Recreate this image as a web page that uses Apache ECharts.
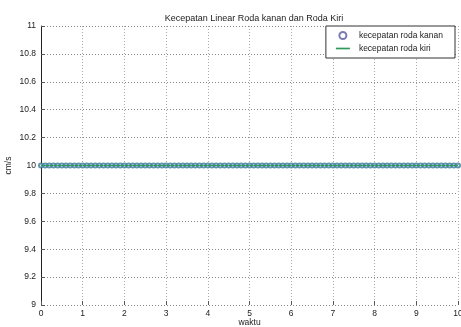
<!DOCTYPE html>
<html>
<head>
<meta charset="utf-8">
<script src="https://cdn.jsdelivr.net/npm/echarts@6/dist/echarts.min.js"></script>
<style>
html,body{margin:0;padding:0;background:#fff;}
#c{width:461px;height:327px;}
</style>
</head>
<body>
<div id="c"></div>
<script>
var waktu = [0,0.1,0.2,0.3,0.4,0.5,0.6,0.7,0.8,0.9,1,1.1,1.2,1.3,1.4,1.5,1.6,1.7,1.8,1.9,2,2.1,2.2,2.3,2.4,2.5,2.6,2.7,2.8,2.9,3,3.1,3.2,3.3,3.4,3.5,3.6,3.7,3.8,3.9,4,4.1,4.2,4.3,4.4,4.5,4.6,4.7,4.8,4.9,5,5.1,5.2,5.3,5.4,5.5,5.6,5.7,5.8,5.9,6,6.1,6.2,6.3,6.4,6.5,6.6,6.7,6.8,6.9,7,7.1,7.2,7.3,7.4,7.5,7.6,7.7,7.8,7.9,8,8.1,8.2,8.3,8.4,8.5,8.6,8.7,8.8,8.9,9,9.1,9.2,9.3,9.4,9.5,9.6,9.7,9.8,9.9,10];
var kecepatanKanan = [10,10,10,10,10,10,10,10,10,10,10,10,10,10,10,10,10,10,10,10,10,10,10,10,10,10,10,10,10,10,10,10,10,10,10,10,10,10,10,10,10,10,10,10,10,10,10,10,10,10,10,10,10,10,10,10,10,10,10,10,10,10,10,10,10,10,10,10,10,10,10,10,10,10,10,10,10,10,10,10,10,10,10,10,10,10,10,10,10,10,10,10,10,10,10,10,10,10,10,10,10];
var kecepatanKiri = [10,10,10,10,10,10,10,10,10,10,10,10,10,10,10,10,10,10,10,10,10,10,10,10,10,10,10,10,10,10,10,10,10,10,10,10,10,10,10,10,10,10,10,10,10,10,10,10,10,10,10,10,10,10,10,10,10,10,10,10,10,10,10,10,10,10,10,10,10,10,10,10,10,10,10,10,10,10,10,10,10,10,10,10,10,10,10,10,10,10,10,10,10,10,10,10,10,10,10,10,10];
var seriesNames = ['kecepatan roda kanan', 'kecepatan roda kiri'];

var font = 'Liberation Sans, Arial, sans-serif';
var chart = echarts.init(document.getElementById('c'), null, {renderer: 'canvas'});
chart.setOption({
  animation: false,
  backgroundColor: '#ffffff',
  title: {
    text: 'Kecepatan Linear Roda kanan dan Roda Kiri',
    left: 249, top: 9, textAlign: 'center',
    textStyle: {fontFamily: font, fontSize: 9, fontWeight: 'normal', color: '#222'}
  },
  legend: {
    right: 6, top: 26, orient: 'vertical',
    backgroundColor: '#fff', borderColor: '#333', borderWidth: 1,
    padding: [5, 12, 5, 10], itemGap: 4, itemWidth: 14, itemHeight: 7,
    textStyle: {fontFamily: font, fontSize: 8.5, color: '#222', padding: [0, 0, 0, 4]},
    data: [
      {name: seriesNames[0], icon: 'emptyCircle', itemStyle: {color: '#5a5aa0', borderColor: '#5a5aa0', borderWidth: 1}},
      {name: seriesNames[1], icon: 'path://M0,0 L10,0 L10,1.2 L0,1.2 Z', itemStyle: {color: '#2e9a5a'}}
    ]
  },
  grid: {left: 41, right: 3, top: 26, bottom: 22, outerBoundsMode: 'none', containLabel: false},
  xAxis: {
    type: 'value', min: 0, max: 10, interval: 1,
    name: 'waktu', nameLocation: 'middle', nameGap: 13, nameMoveOverlap: false,
    nameTextStyle: {fontFamily: font, fontSize: 8.5, color: '#222', verticalAlign: 'top'},
    axisLine: {show: false},
    axisTick: {show: true, inside: true, length: 4, lineStyle: {color: '#555'}},
    axisLabel: {fontFamily: font, fontSize: 8.5, color: '#222', margin: 4, showMaxLabel: true},
    splitLine: {show: true, lineStyle: {color: '#aaa', type: [1, 2], width: 1}}
  },
  yAxis: {
    type: 'value', min: 9, max: 11, interval: 0.2,
    name: 'cm/s', nameLocation: 'middle', nameGap: 28, nameRotate: 90, nameMoveOverlap: false,
    nameTextStyle: {fontFamily: font, fontSize: 8.5, color: '#222'},
    axisLine: {show: true, lineStyle: {color: '#222', width: 1}},
    axisTick: {show: true, inside: true, length: 4, lineStyle: {color: '#555'}},
    axisLabel: {fontFamily: font, fontSize: 8.5, color: '#222', margin: 5},
    splitLine: {show: true, lineStyle: {color: '#888', type: [1, 2], width: 1}}
  },
  series: [
    {
      name: seriesNames[0], type: 'scatter',
      symbol: 'emptyCircle', symbolSize: 4,
      itemStyle: {color: '#3a7a98', borderColor: '#3a7a98', borderWidth: 1},
      data: waktu.map(function (t, i) { return [t, kecepatanKanan[i]]; }),
      z: 3
    },
    {
      name: seriesNames[1], type: 'line',
      showSymbol: false, symbol: 'none',
      lineStyle: {color: '#2e9a5a', width: 1},
      itemStyle: {color: '#2e9a5a'},
      data: waktu.map(function (t, i) { return [t, kecepatanKiri[i]]; }),
      z: 4
    }
  ]
});
</script>
</body>
</html>
